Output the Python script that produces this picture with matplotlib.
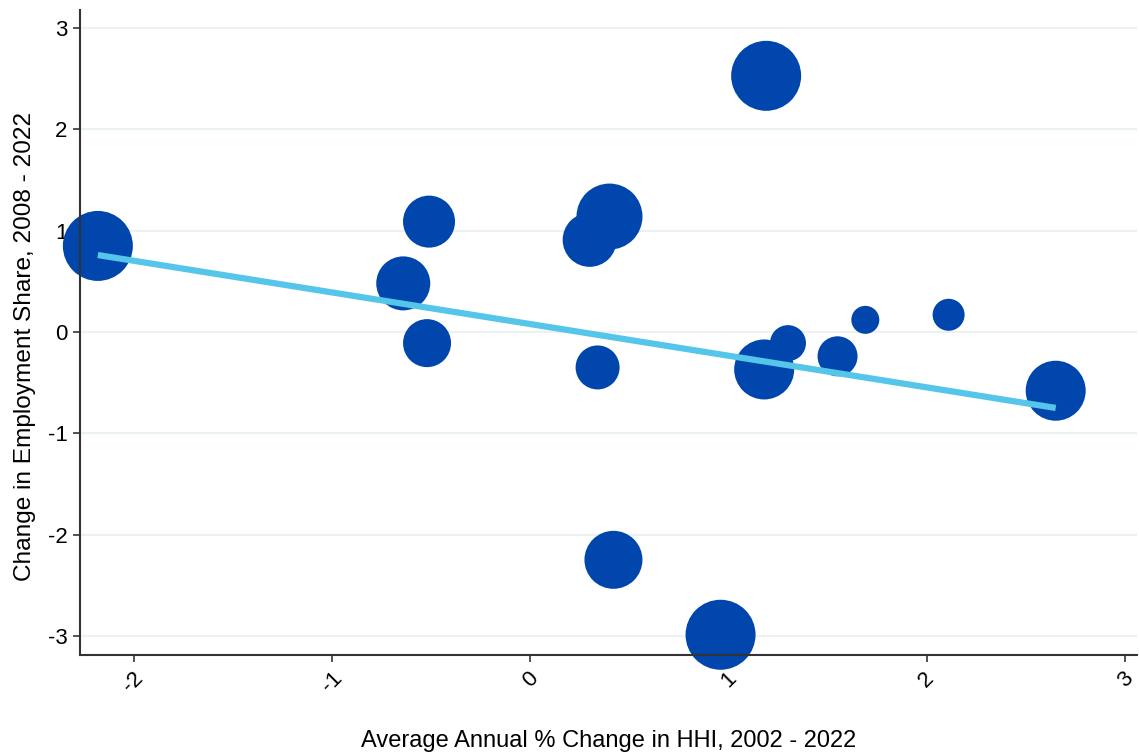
import matplotlib
matplotlib.use("Agg")
import matplotlib.pyplot as plt
import numpy as np

plt.rcParams['font.family'] = ['Liberation Sans', 'DejaVu Sans']

# Data
hhi_change = [-2.18, -0.64, -0.51, -0.52, 0.30, 0.40, 0.34, 0.42, 0.96, 1.19, 1.18, 1.30, 1.55, 1.69, 2.11, 2.65]
emp_change = [0.85, 0.48, 1.09, -0.11, 0.91, 1.14, -0.35, -2.25, -2.99, 2.53, -0.37, -0.11, -0.24, 0.12, 0.17, -0.58]
bubble_radius_px = [35, 27, 26, 24, 27, 33, 22, 29, 35, 35, 30, 18, 20, 14, 16, 30]

fit_x = [-2.18, 2.65]
fit_y = [0.76, -0.75]

x_ticks = [-2, -1, 0, 1, 2, 3]
y_ticks = [-3, -2, -1, 0, 1, 2, 3]

dpi = 100
fig = plt.figure(figsize=(11.39, 7.52), dpi=dpi)
ax = fig.add_axes([80/1139, 1-655/752, (1137-80)/1139, (655-10)/752])

sizes = [(2*r*72/dpi)**2 for r in bubble_radius_px]
ax.scatter(hhi_change, emp_change, s=sizes, color='#0046AD', edgecolors='none',
           zorder=2, clip_on=False)
ax.plot(fit_x, fit_y, color='#56C5EA', lw=4.5, solid_capstyle='butt', zorder=4)

ax.set_xlim(-2.27, 3.06)
ax.set_ylim(-3.19, 3.18)
ax.set_xticks(x_ticks)
ax.set_yticks(y_ticks)
ax.set_xticklabels([str(t) for t in x_ticks], rotation=45, ha='center', va='top')
ax.set_yticklabels([str(t) for t in y_ticks])
ax.tick_params(axis='both', labelsize=16, length=5, width=1.2, color='#333333')
ax.tick_params(axis='y', pad=4)
ax.tick_params(axis='x', pad=4)

ax.grid(axis='y', color='#EAF2F3', lw=1.5, zorder=0)
ax.set_axisbelow(True)
for s in ['top', 'right']:
    ax.spines[s].set_visible(False)
for s in ['left', 'bottom']:
    ax.spines[s].set_color('#333333')
    ax.spines[s].set_linewidth(1.5)

ax.set_xlabel('Average Annual % Change in HHI, 2002 - 2022', fontsize=17, labelpad=24)
ax.set_ylabel('Change in Employment Share, 2008 - 2022', fontsize=17.6)
ax.yaxis.set_label_coords(-0.0416, 0.478)

fig.savefig('out.png', dpi=dpi)
